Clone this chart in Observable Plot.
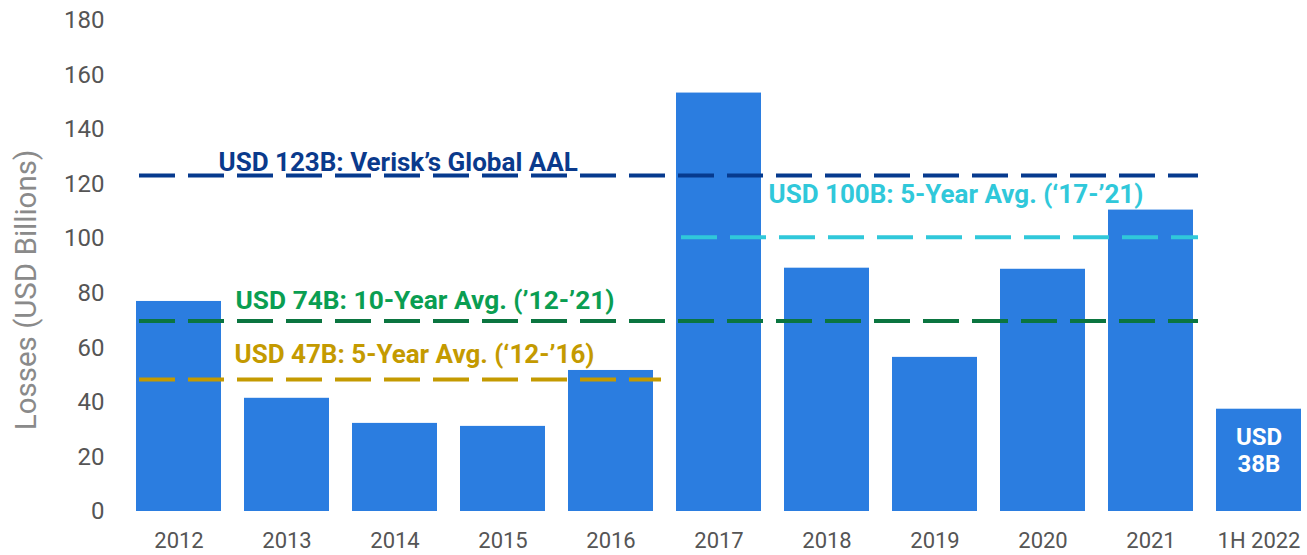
<!DOCTYPE html>
<html><head><meta charset="utf-8">
<script src="https://cdn.jsdelivr.net/npm/d3@7"></script>
<script src="https://cdn.jsdelivr.net/npm/@observablehq/plot@0.6"></script>
<style>
html,body{margin:0;padding:0;background:#fff;}
#chart svg{font-family:Roboto,sans-serif;}
</style></head><body><div id="chart"></div>
<script>
const periods = ["2012","2013","2014","2015","2016","2017","2018","2019","2020","2021","1H 2022"];
const losses = [77, 41.5, 32.3, 31.2, 51.7, 153.4, 89.2, 56.5, 88.8, 110.5, 37.5];
const yTicks = [0,20,40,60,80,100,120,140,160,180];

const refLabels = ["USD 123B: Verisk\u2019s Global AAL", "USD 100B: 5-Year Avg. (\u201817-\u201921)", "USD 74B: 10-Year Avg. (\u201912-\u201921)", "USD 47B: 5-Year Avg. (\u201812-\u201916)"];
const refValues = [123.2, 100.5, 69.8, 48.4];
const refStart = ["2012","2017","2012","2012"];
const refEnd = ["2021","2021","2021","2016"];
const refLineColors = ["#063a8e","#30c8da","#0b7540","#c49a00"];
const refTextColors = ["#0a3a8c","#30c8da","#0a9e52","#c49a00"];
const refLabelValues = [128, 116.2, 77.5, 57.6];
const refLabelAnchor = ["2012","2017","2012","2012"];
const refLabelDx = [39.5, 49.5, 56.5, 55.5];
const barLabel = "USD\n38B";
const yLabel = "Losses (USD Billions)";

const bars = periods.map((p, i) => ({p, v: losses[i]}));
const refs = refLabels.map((t, i) => ({
  t, v: refValues[i], x1: refStart[i], x2: refEnd[i],
  lc: refLineColors[i], tc: refTextColors[i], lv: refLabelValues[i], la: refLabelAnchor[i], dx: refLabelDx[i]
}));

const refMarks = refs.flatMap(r => [
  Plot.ruleY([r], {y: "v", x1: "x1", x2: "x2", stroke: r.lc, strokeWidth: 4,
    strokeDasharray: "36,13", insetLeft: r.x1 === "2017" ? 5 : 3, insetRight: r.x2 === "2016" ? -8 : -5}),
  Plot.text([r], {x: "la", y: "lv", text: "t", fill: r.tc, fontWeight: "bold", fontSize: r.x1 === "2012" && r.x2 === "2021" && r.v < 100 ? 26.3 : 26,
    textAnchor: "start", dx: r.dx})
]);

const chart = Plot.plot({
  width: 1307,
  height: 555,
  marginLeft: 134,
  marginRight: 3,
  marginTop: 20,
  marginBottom: 44,
  style: {fontFamily: "Roboto, sans-serif", background: "#fff"},
  x: {domain: periods, paddingInner: 0.21, paddingOuter: 0},
  y: {domain: [0, 180]},
  marks: [
    Plot.barY(bars, {x: "p", y: "v", fill: "#2b7de0"}),
    ...refMarks,
    Plot.text([bars[10]], {x: "p", y: "v", text: () => barLabel, fill: "#fff", fontWeight: "bold",
      fontSize: 24, lineAnchor: "top", dy: 17, lineHeight: 1.12}),
    Plot.axisY({ticks: yTicks, tickSize: 0, tickPadding: 30, fontSize: 24, color: "#555", label: null}),
    Plot.axisX({tickSize: 0, tickPadding: 21, fontSize: 22, color: "#555", label: null}),
    Plot.text([yLabel], {frameAnchor: "left", textAnchor: "middle", rotate: -90, dx: -108, dy: 24,
      fontSize: 29.5, fill: "#8a8a8a"})
  ]
});
document.getElementById("chart").appendChild(chart);
</script></body></html>
